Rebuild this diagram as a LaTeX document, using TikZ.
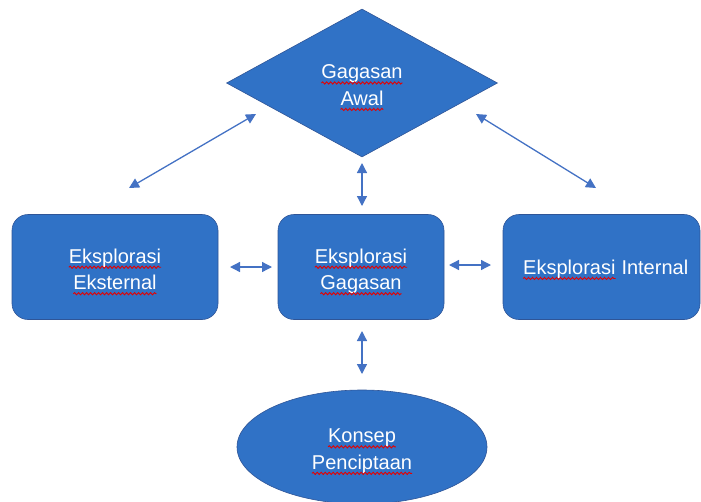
\documentclass[tikz,border=0pt]{standalone}
\usepackage{fontspec}
\setmainfont{Liberation Sans}
\usetikzlibrary{shapes.geometric,arrows.meta,decorations.pathmorphing}
\definecolor{boxblue}{HTML}{3072C6}
\definecolor{edgeblue}{HTML}{2F5597}
\definecolor{arrblue}{HTML}{4472C4}
\newcommand\sqw[1]{\tikz[baseline=(w.base)]{\node[rectangle,inner sep=0pt,outer sep=0pt,draw=none,fill=none,text=white,minimum width=0pt,minimum height=0pt](w){#1};\draw[red!90!black,sharp corners,line width=0.9pt,decorate,decoration={snake,amplitude=1.1pt,segment length=4pt}]([yshift=-4pt]w.base west)--([yshift=-4pt]w.base east);}}
\begin{document}
\begin{tikzpicture}[x=1pt,y=-1pt,
  shapebase/.style={fill=boxblue,draw=edgeblue,line width=0.6pt},
  roundbox/.style={shapebase,rectangle,rounded corners=16pt,minimum height=105pt},
  label/.style={text=white,align=center,inner sep=0pt,font=\fontsize{20}{26.5}\selectfont},
  conn/.style={draw=arrblue,line width=1.3pt,{Triangle[length=10pt,width=10pt]}-{Triangle[length=10pt,width=10pt]}}]
\useasboundingbox (0,0) rectangle (701,501);
\node[shapebase,diamond,minimum width=271pt,minimum height=148pt] (G) at (362,83) {};
\node[roundbox,minimum width=206pt] (L) at (115,267) {};
\node[roundbox,minimum width=166pt] (M) at (361,267) {};
\node[roundbox,minimum width=197pt] (R) at (601.5,267) {};
\node[shapebase,ellipse,minimum width=250pt,minimum height=114pt] (K) at (362,447) {};
\node[label] (Gt) at ([yshift=-5pt]G.center) {\sqw{Gagasan}\\\sqw{Awal}};
\node[label] (Lt) at ([yshift=-5pt]L.center) {\sqw{Eksplorasi}\\\sqw{Eksternal}};
\node[label] (Mt) at ([yshift=-5pt]M.center) {\sqw{Eksplorasi}\\\sqw{Gagasan}};
\node[label] (Rt) at ([yshift=-3pt,xshift=4pt]R.center) {\sqw{Eksplorasi} Internal};
\node[label] (Kt) at ([yshift=-5pt]K.center) {\sqw{Konsep}\\\sqw{Penciptaan}};
\coordinate (a1) at (129,188);
\coordinate (a2) at (256,114);
\coordinate (b1) at (476,114);
\coordinate (b2) at (596,188);
\coordinate (c1) at (362,163);
\coordinate (c2) at (362,206);
\coordinate (d1) at (362,331);
\coordinate (d2) at (362,374);
\coordinate (e1) at (230,267);
\coordinate (e2) at (272,267);
\coordinate (f1) at (449,265);
\coordinate (f2) at (491,265);
\draw[conn] (a1) -- (a2);
\draw[conn] (b1) -- (b2);
\draw[conn] (c1) -- (c2);
\draw[conn] (d1) -- (d2);
\draw[conn] (e1) -- (e2);
\draw[conn] (f1) -- (f2);
\end{tikzpicture}
\end{document}
